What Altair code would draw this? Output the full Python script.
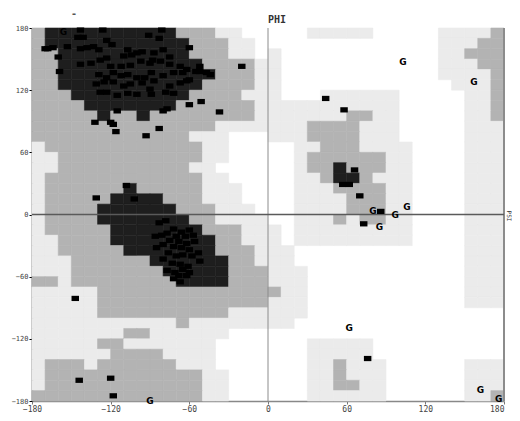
import altair as alt
import pandas as pd

# Ramachandran region map: 36 rows (psi 180 -> -180) x 36 columns (phi -180 -> 180), 10 deg cells
# run-length encoded: D = core, M = allowed, L = generous, W = disallowed
REGION_ROWS = [
    "M1 D10 M3 L2 W2 W3 L5 W5 L4 M1",
    "M1 D11 M3 L2 W1 W13 L3 M2",
    "M2 D10 M3 L2 W1 L1 W12 L2 M3",
    "M2 D11 M4 L1 L1 W12 L3 M2",
    "M2 D12 M3 L1 L1 W12 L4 M1",
    "M2 D11 M4 L1 L1 W13 L3 M1",
    "M3 D9 M4 L2 L1 W3 L6 W5 L2 M1",
    "M4 D7 M6 L1 L10 W5 L2 M1",
    "M5 D1 M2 D1 M8 L1 L6 M2 L2 W5 L2 M1",
    "M14 L4 L3 M4 L3 W5 L3",
    "M12 L3 W3 L3 M4 L3 W5 L3",
    "L1 M12 L2 W3 W2 L2 M3 L4 W4 L3",
    "L2 M11 L2 W3 W2 L1 M6 L2 W4 L3",
    "L2 M10 L2 W4 W2 L1 M2 D1 M3 L2 W4 L3",
    "L1 M12 L2 W3 W2 L2 M1 D2 M1 L3 W4 L3",
    "L1 M6 D1 M5 L3 W2 W2 L3 M4 L2 W4 L3",
    "L1 M5 D4 M3 L3 W2 W2 L4 M3 L2 W4 L3",
    "L1 M4 D6 M3 L3 W1 W2 L4 M3 L2 W4 L3",
    "L1 M4 D7 M2 L4 W2 L3 M1 L1 M2 L2 W4 L3",
    "L1 M5 D7 M3 L2 L1 W1 L9 W4 L3",
    "L2 M4 D8 M2 L2 L1 W1 L9 W4 L3",
    "L2 M5 D7 M3 L1 L2 W13 L3",
    "L3 M6 D6 M2 L1 L2 W13 L3",
    "L3 M7 D5 M3 L3 W12 L3",
    "M2 L1 M8 D4 M3 L3 W12 L3",
    "L5 M13 M1 L2 W12 L3",
    "L5 M13 L3 W12 L3",
    "L5 M10 L3 L3 W15",
    "L11 M1 L6 L2 W16",
    "L7 M2 L6 W3 W18",
    "L5 M2 L7 W4 W3 L5 W10",
    "L6 M4 L4 W4 W3 L5 W10",
    "L1 M3 L1 M6 L3 W4 W3 L2 M1 L3 W6 L3",
    "L1 M12 L2 W3 W3 L2 M1 L3 W6 L3",
    "L1 M12 L2 W3 W3 L2 M2 L2 W6 L3",
    "M13 L2 W3 W3 L6 W6 L2 M1",
]
REGION_CLASSES = ["D", "M", "L"]
REGION_COLORS = ["#1e1e1e", "#b3b3b3", "#ebebeb"]

# non-glycine residues (phi, psi)
RES_PHI = [-143, -126, -81, -145, -141, -123, -91, -83, -168, -164, -170, -160, -153, -143, -138, -133,
           -129, -119, -107, -100, -87, -80, -60, -123, -110, -104, -96, -88, -75, -143, -135, -128,
           -120, -112, -105, -97, -90, -82, -75, -67, -62, -52, -44, -52, -20, -159, -129, -123, -118,
           -112, -107, -100, -94, -89, -80, -72, -65, -60, -55, -47, -131, -125, -118, -110, -105, -96,
           -87, -75, -67, -62, -128, -123, -115, -107, -100, -90, -89, -78, -72, -77, -80, -60, -51,
           -37, -115, -132, -120, -118, -116, -93, -83, -108, -131, -102,
           -83, -78, -72, -66, -60, -81, -77, -86, -70, -63, -57, -75, -68, -62, -56, -85, -80, -72,
           -66, -60, -53, -52, -76, -70, -65, -58, -80, -73, -67, -61, -77, -71, -65, -60, -72, -67,
           -62, -68, -147, -144, -120, -118,
           44, 58, 66, 70, 57, 62, 86, 73, 76]
RES_PSI = [178, 178, 178, 171, 171, 168, 173, 170, 160, 161, 160, 152, 162, 160, 161, 162,
           159, 164, 159, 156, 156, 159, 161, 151, 153, 154, 157, 149, 152, 145, 146, 149,
           143, 143, 144, 148, 146, 148, 145, 143, 140, 143, 135, 138, 143, 138, 135, 132, 137,
           134, 135, 132, 132, 137, 134, 137, 137, 130, 138, 137, 126, 128, 128, 124, 126, 127,
           129, 124, 127, 129, 118, 118, 115, 117, 116, 121, 116, 118, 117, 102, 100, 106, 109,
           99, 100, 89, 89, 87, 80, 76, 83, 28, 16, 15,
           -8, -6, -14, -17, -15, -20, -18, -21, -21, -21, -20, -25, -26, -28, -26, -32, -29, -31,
           -32, -34, -37, -45, -37, -40, -39, -40, -43, -47, -48, -50, -54, -56, -53, -56, -62, -65,
           -59, -59, -81, -160, -158, -175,
           112, 101, 43, 18, 29, 29, 3, -9, -139]

# glycine residues (phi, psi)
GLY_PHI = [-156, 103, 157, 106, 80, 97, 85, 62, 162, 176, -90]
GLY_PSI = [176, 147, 128, 7.5, 3, 0, -12, -110, -169, -178, -180]

TICKS = [-180, -120, -60, 0, 60, 120, 180]


def expand(rle):
    out = []
    for tok in rle.split():
        out.extend(tok[0] * int(tok[1:]))
    return out


cells = []
for r, row in enumerate(REGION_ROWS):
    for c, ch in enumerate(expand(row)):
        if ch != "W":
            cells.append({"phi0": -180 + 10 * c, "phi1": -170 + 10 * c,
                          "psi0": 170 - 10 * r, "psi1": 180 - 10 * r, "cls": ch})
cells_df = pd.DataFrame(cells)
res_df = pd.DataFrame({"phi": RES_PHI, "psi": RES_PSI})
gly_df = pd.DataFrame({"phi": GLY_PHI, "psi": GLY_PSI})

XS = alt.Scale(domain=[-180, 180], nice=False, zero=False)
YS = alt.Scale(domain=[-180, 180], nice=False, zero=False)
XA = alt.Axis(values=TICKS, title=None, grid=False, labelFont="DejaVu Sans Mono", labelFontSize=8,
              labelColor="#444444", tickColor="#777777", domainColor="#888888", tickSize=3,
              labelPadding=1, labelFlush=False, labelOverlap=False, domainWidth=1.5,
              labelAlign=alt.ExprRef(expr="datum.value == 180 ? 'right' : 'center'"))
YA = alt.Axis(values=TICKS, title=None, grid=False, labelFont="DejaVu Sans Mono", labelFontSize=7,
              labelColor="#444444", tickColor="#000000", domainColor="#000000", tickSize=3,
              labelPadding=1, labelFlush=False, labelOverlap=False, domainWidth=1.5)

color_scale = alt.Scale(domain=REGION_CLASSES, range=REGION_COLORS)

regions = alt.Chart(cells_df).mark_rect(strokeWidth=0.6).encode(
    x=alt.X("phi0:Q", scale=XS, axis=XA),
    x2="phi1:Q",
    y=alt.Y("psi0:Q", scale=YS, axis=YA),
    y2="psi1:Q",
    color=alt.Color("cls:N", scale=color_scale, legend=None),
    stroke=alt.Stroke("cls:N", scale=color_scale, legend=None),
)

vline = alt.Chart(pd.DataFrame({"phi": [0]})).mark_rule(color="#8c8c8c", strokeWidth=1).encode(
    x=alt.X("phi:Q", scale=XS, axis=XA))
rborder = alt.Chart(pd.DataFrame({"phi": [180]})).mark_rule(color="#8c8c8c", strokeWidth=2).encode(
    x=alt.X("phi:Q", scale=XS, axis=XA))
hline = alt.Chart(pd.DataFrame({"psi": [0]})).mark_rule(color="#5a5a5a", strokeWidth=1.5).encode(
    y=alt.Y("psi:Q", scale=YS, axis=YA))

RECT = "M-1,-0.7H1V0.7H-1Z"
points = alt.Chart(res_df).mark_point(shape=RECT, size=56, filled=True, color="#000000", opacity=1).encode(
    x=alt.X("phi:Q", scale=XS, axis=XA),
    y=alt.Y("psi:Q", scale=YS, axis=YA),
)

gly = alt.Chart(gly_df).mark_text(text="G", font="DejaVu Sans", fontWeight="bold", fontSize=9,
                                  color="#000000", align="center", baseline="middle").encode(
    x=alt.X("phi:Q", scale=XS, axis=XA),
    y=alt.Y("psi:Q", scale=YS, axis=YA),
)

phi_title = alt.Chart(pd.DataFrame({"t": ["PHI"]})).mark_text(
    font="DejaVu Sans Mono", fontSize=10, fontWeight="bold", color="#333333", align="center", baseline="middle"
).encode(text="t:N", x=alt.value(245), y=alt.value(-8))

psi_title = alt.Chart(pd.DataFrame({"t": ["PSI"]})).mark_text(
    font="DejaVu Sans Mono", fontSize=6, color="#333333", align="center", baseline="middle", angle=90
).encode(text="t:N", x=alt.value(477), y=alt.value(188))

dash = alt.Chart(pd.DataFrame({"t": ["-"]})).mark_text(
    font="DejaVu Sans Mono", fontSize=10, fontWeight="bold", color="#555555", align="center", baseline="middle"
).encode(text="t:N", x=alt.value(42), y=alt.value(-14))

chart = alt.layer(regions, vline, rborder, hline, points, gly, phi_title, psi_title, dash).properties(
    width=472, height=373,
    autosize=alt.AutoSizeParams(type="none"),
    padding={"left": 24, "top": 20, "right": 8, "bottom": 14},
).configure_view(stroke=None)

chart.save("out.html", embed_options={"renderer": "svg", "actions": False})
